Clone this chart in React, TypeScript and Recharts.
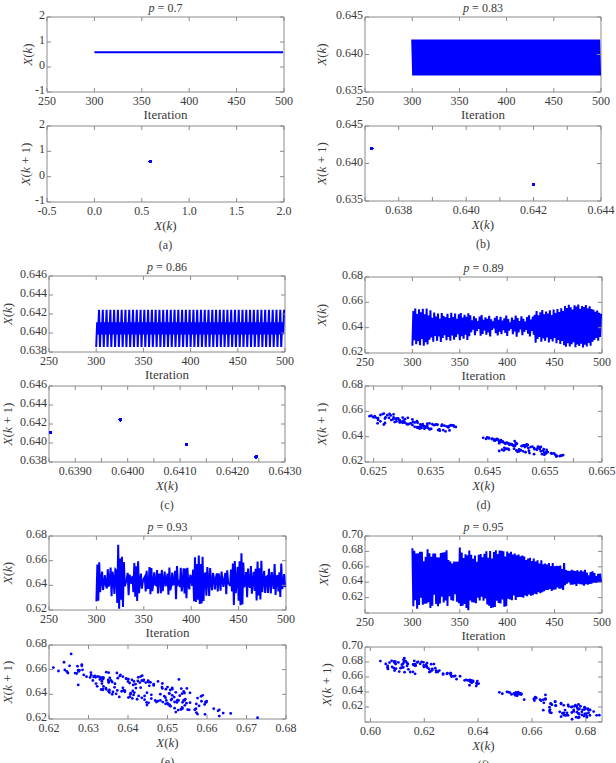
import React from 'react';
import { LineChart, Line, ScatterChart, Scatter, XAxis, YAxis, ReferenceArea } from 'recharts';

// ---------------- data ----------------
const START_ITER = 300;
const iterTicks = [250, 300, 350, 400, 450, 500];

const seriesA = [
  0.59, 0.59, 0.59, 0.59, 0.59, 0.59, 0.59, 0.59, 0.59, 0.59, 0.59, 0.59, 0.59, 0.59, 0.59, 0.59, 0.59, 0.59, 0.59, 0.59,
  0.59, 0.59, 0.59, 0.59, 0.59, 0.59, 0.59, 0.59, 0.59, 0.59, 0.59, 0.59, 0.59, 0.59, 0.59, 0.59, 0.59, 0.59, 0.59, 0.59,
  0.59, 0.59, 0.59, 0.59, 0.59, 0.59, 0.59, 0.59, 0.59, 0.59, 0.59, 0.59, 0.59, 0.59, 0.59, 0.59, 0.59, 0.59, 0.59, 0.59,
  0.59, 0.59, 0.59, 0.59, 0.59, 0.59, 0.59, 0.59, 0.59, 0.59, 0.59, 0.59, 0.59, 0.59, 0.59, 0.59, 0.59, 0.59, 0.59, 0.59,
  0.59, 0.59, 0.59, 0.59, 0.59, 0.59, 0.59, 0.59, 0.59, 0.59, 0.59, 0.59, 0.59, 0.59, 0.59, 0.59, 0.59, 0.59, 0.59, 0.59,
  0.59, 0.59, 0.59, 0.59, 0.59, 0.59, 0.59, 0.59, 0.59, 0.59, 0.59, 0.59, 0.59, 0.59, 0.59, 0.59, 0.59, 0.59, 0.59, 0.59,
  0.59, 0.59, 0.59, 0.59, 0.59, 0.59, 0.59, 0.59, 0.59, 0.59, 0.59, 0.59, 0.59, 0.59, 0.59, 0.59, 0.59, 0.59, 0.59, 0.59,
  0.59, 0.59, 0.59, 0.59, 0.59, 0.59, 0.59, 0.59, 0.59, 0.59, 0.59, 0.59, 0.59, 0.59, 0.59, 0.59, 0.59, 0.59, 0.59, 0.59,
  0.59, 0.59, 0.59, 0.59, 0.59, 0.59, 0.59, 0.59, 0.59, 0.59, 0.59, 0.59, 0.59, 0.59, 0.59, 0.59, 0.59, 0.59, 0.59, 0.59,
  0.59, 0.59, 0.59, 0.59, 0.59, 0.59, 0.59, 0.59, 0.59, 0.59, 0.59, 0.59, 0.59, 0.59, 0.59, 0.59, 0.59, 0.59, 0.59, 0.59,
];

const seriesB = [
  0.6420, 0.6372, 0.6420, 0.6372, 0.6420, 0.6372, 0.6420, 0.6372, 0.6420, 0.6372, 0.6420, 0.6372, 0.6420, 0.6372, 0.6420, 0.6372, 0.6420, 0.6372, 0.6420, 0.6372,
  0.6420, 0.6372, 0.6420, 0.6372, 0.6420, 0.6372, 0.6420, 0.6372, 0.6420, 0.6372, 0.6420, 0.6372, 0.6420, 0.6372, 0.6420, 0.6372, 0.6420, 0.6372, 0.6420, 0.6372,
  0.6420, 0.6372, 0.6420, 0.6372, 0.6420, 0.6372, 0.6420, 0.6372, 0.6420, 0.6372, 0.6420, 0.6372, 0.6420, 0.6372, 0.6420, 0.6372, 0.6420, 0.6372, 0.6420, 0.6372,
  0.6420, 0.6372, 0.6420, 0.6372, 0.6420, 0.6372, 0.6420, 0.6372, 0.6420, 0.6372, 0.6420, 0.6372, 0.6420, 0.6372, 0.6420, 0.6372, 0.6420, 0.6372, 0.6420, 0.6372,
  0.6420, 0.6372, 0.6420, 0.6372, 0.6420, 0.6372, 0.6420, 0.6372, 0.6420, 0.6372, 0.6420, 0.6372, 0.6420, 0.6372, 0.6420, 0.6372, 0.6420, 0.6372, 0.6420, 0.6372,
  0.6420, 0.6372, 0.6420, 0.6372, 0.6420, 0.6372, 0.6420, 0.6372, 0.6420, 0.6372, 0.6420, 0.6372, 0.6420, 0.6372, 0.6420, 0.6372, 0.6420, 0.6372, 0.6420, 0.6372,
  0.6420, 0.6372, 0.6420, 0.6372, 0.6420, 0.6372, 0.6420, 0.6372, 0.6420, 0.6372, 0.6420, 0.6372, 0.6420, 0.6372, 0.6420, 0.6372, 0.6420, 0.6372, 0.6420, 0.6372,
  0.6420, 0.6372, 0.6420, 0.6372, 0.6420, 0.6372, 0.6420, 0.6372, 0.6420, 0.6372, 0.6420, 0.6372, 0.6420, 0.6372, 0.6420, 0.6372, 0.6420, 0.6372, 0.6420, 0.6372,
  0.6420, 0.6372, 0.6420, 0.6372, 0.6420, 0.6372, 0.6420, 0.6372, 0.6420, 0.6372, 0.6420, 0.6372, 0.6420, 0.6372, 0.6420, 0.6372, 0.6420, 0.6372, 0.6420, 0.6372,
  0.6420, 0.6372, 0.6420, 0.6372, 0.6420, 0.6372, 0.6420, 0.6372, 0.6420, 0.6372, 0.6420, 0.6372, 0.6420, 0.6372, 0.6420, 0.6372, 0.6420, 0.6372, 0.6420, 0.6372,
];

const seriesC = [
  0.63853, 0.64112, 0.63986, 0.64245, 0.63853, 0.64112, 0.63986, 0.64245, 0.63853, 0.64112, 0.63986, 0.64245, 0.63853, 0.64112, 0.63986, 0.64245, 0.63853, 0.64112, 0.63986, 0.64245,
  0.63853, 0.64112, 0.63986, 0.64245, 0.63853, 0.64112, 0.63986, 0.64245, 0.63853, 0.64112, 0.63986, 0.64245, 0.63853, 0.64112, 0.63986, 0.64245, 0.63853, 0.64112, 0.63986, 0.64245,
  0.63853, 0.64112, 0.63986, 0.64245, 0.63853, 0.64112, 0.63986, 0.64245, 0.63853, 0.64112, 0.63986, 0.64245, 0.63853, 0.64112, 0.63986, 0.64245, 0.63853, 0.64112, 0.63986, 0.64245,
  0.63853, 0.64112, 0.63986, 0.64245, 0.63853, 0.64112, 0.63986, 0.64245, 0.63853, 0.64112, 0.63986, 0.64245, 0.63853, 0.64112, 0.63986, 0.64245, 0.63853, 0.64112, 0.63986, 0.64245,
  0.63853, 0.64112, 0.63986, 0.64245, 0.63853, 0.64112, 0.63986, 0.64245, 0.63853, 0.64112, 0.63986, 0.64245, 0.63853, 0.64112, 0.63986, 0.64245, 0.63853, 0.64112, 0.63986, 0.64245,
  0.63853, 0.64112, 0.63986, 0.64245, 0.63853, 0.64112, 0.63986, 0.64245, 0.63853, 0.64112, 0.63986, 0.64245, 0.63853, 0.64112, 0.63986, 0.64245, 0.63853, 0.64112, 0.63986, 0.64245,
  0.63853, 0.64112, 0.63986, 0.64245, 0.63853, 0.64112, 0.63986, 0.64245, 0.63853, 0.64112, 0.63986, 0.64245, 0.63853, 0.64112, 0.63986, 0.64245, 0.63853, 0.64112, 0.63986, 0.64245,
  0.63853, 0.64112, 0.63986, 0.64245, 0.63853, 0.64112, 0.63986, 0.64245, 0.63853, 0.64112, 0.63986, 0.64245, 0.63853, 0.64112, 0.63986, 0.64245, 0.63853, 0.64112, 0.63986, 0.64245,
  0.63853, 0.64112, 0.63986, 0.64245, 0.63853, 0.64112, 0.63986, 0.64245, 0.63853, 0.64112, 0.63986, 0.64245, 0.63853, 0.64112, 0.63986, 0.64245, 0.63853, 0.64112, 0.63986, 0.64245,
  0.63853, 0.64112, 0.63986, 0.64245, 0.63853, 0.64112, 0.63986, 0.64245, 0.63853, 0.64112, 0.63986, 0.64245, 0.63853, 0.64112, 0.63986, 0.64245, 0.63853, 0.64112, 0.63986, 0.64245,
];

const seriesD = [
  0.6258, 0.6532, 0.6301, 0.6551, 0.6270, 0.6508, 0.6293, 0.6545, 0.6262, 0.6521, 0.6310, 0.6549, 0.6257, 0.6505, 0.6285, 0.6552, 0.6268, 0.6496, 0.6305, 0.6538,
  0.6322, 0.6478, 0.6290, 0.6520, 0.6335, 0.6487, 0.6296, 0.6512, 0.6330, 0.6470, 0.6287, 0.6515, 0.6318, 0.6492, 0.6340, 0.6481, 0.6301, 0.6509, 0.6326, 0.6475,
  0.6297, 0.6518, 0.6338, 0.6483, 0.6305, 0.6511, 0.6327, 0.6470, 0.6348, 0.6505, 0.6300, 0.6516, 0.6332, 0.6479, 0.6312, 0.6501, 0.6344, 0.6486, 0.6303, 0.6514,
  0.6332, 0.6497, 0.6365, 0.6458, 0.6385, 0.6490, 0.6340, 0.6473, 0.6372, 0.6452, 0.6390, 0.6488, 0.6336, 0.6499, 0.6351, 0.6462, 0.6378, 0.6481, 0.6345, 0.6470,
  0.6362, 0.6494, 0.6330, 0.6466, 0.6383, 0.6449, 0.6394, 0.6477, 0.6356, 0.6491, 0.6339, 0.6463, 0.6369, 0.6485, 0.6348, 0.6457, 0.6381, 0.6473, 0.6359, 0.6496,
  0.6334, 0.6468, 0.6376, 0.6442, 0.6391, 0.6480, 0.6349, 0.6461, 0.6370, 0.6495, 0.6328, 0.6476, 0.6363, 0.6452, 0.6387, 0.6489, 0.6341, 0.6470, 0.6366, 0.6447,
  0.6382, 0.6483, 0.6353, 0.6498, 0.6331, 0.6465, 0.6374, 0.6487, 0.6344, 0.6502, 0.6281, 0.6531, 0.6310, 0.6497, 0.6326, 0.6522, 0.6289, 0.6540, 0.6315, 0.6505,
  0.6296, 0.6528, 0.6322, 0.6512, 0.6284, 0.6537, 0.6308, 0.6500, 0.6291, 0.6543, 0.6319, 0.6516, 0.6277, 0.6548, 0.6302, 0.6523, 0.6271, 0.6553, 0.6295, 0.6531,
  0.6262, 0.6571, 0.6249, 0.6555, 0.6278, 0.6580, 0.6252, 0.6561, 0.6270, 0.6543, 0.6285, 0.6576, 0.6246, 0.6566, 0.6268, 0.6582, 0.6255, 0.6549, 0.6274, 0.6570,
  0.6243, 0.6562, 0.6266, 0.6578, 0.6251, 0.6553, 0.6280, 0.6568, 0.6258, 0.6547, 0.6289, 0.6541, 0.6302, 0.6525, 0.6318, 0.6536, 0.6296, 0.6518, 0.6327, 0.6510,
];

const seriesE = [
  0.6270, 0.6569, 0.6275, 0.6586, 0.6344, 0.6451, 0.6511, 0.6362, 0.6419, 0.6482, 0.6401, 0.6374, 0.6531, 0.6389, 0.6432, 0.6544, 0.6311, 0.6512, 0.6452, 0.6331,
  0.6529, 0.6521, 0.6256, 0.6728, 0.6211, 0.6617, 0.6283, 0.6631, 0.6224, 0.6589, 0.6392, 0.6420, 0.6451, 0.6501, 0.6319, 0.6487, 0.6448, 0.6413, 0.6476, 0.6345,
  0.6580, 0.6307, 0.6555, 0.6274, 0.6596, 0.6337, 0.6445, 0.6495, 0.6373, 0.6432, 0.6454, 0.6469, 0.6350, 0.6517, 0.6378, 0.6379, 0.6548, 0.6328, 0.6541, 0.6353,
  0.6415, 0.6505, 0.6406, 0.6401, 0.6524, 0.6334, 0.6487, 0.6488, 0.6337, 0.6525, 0.6353, 0.6435, 0.6512, 0.6392, 0.6430, 0.6495, 0.6323, 0.6545, 0.6360, 0.6400,
  0.6504, 0.6407, 0.6410, 0.6518, 0.6288, 0.6557, 0.6412, 0.6427, 0.6387, 0.6543, 0.6351, 0.6426, 0.6538, 0.6335, 0.6537, 0.6295, 0.6543, 0.6411, 0.6367, 0.6486,
  0.6459, 0.6396, 0.6527, 0.6272, 0.6628, 0.6266, 0.6572, 0.6283, 0.6641, 0.6248, 0.6573, 0.6252, 0.6631, 0.6274, 0.6476, 0.6505, 0.6316, 0.6549, 0.6448, 0.6313,
  0.6541, 0.6423, 0.6360, 0.6500, 0.6459, 0.6366, 0.6457, 0.6497, 0.6351, 0.6496, 0.6442, 0.6357, 0.6512, 0.6442, 0.6387, 0.6453, 0.6500, 0.6329, 0.6521, 0.6416,
  0.6414, 0.6395, 0.6528, 0.6351, 0.6576, 0.6240, 0.6598, 0.6336, 0.6436, 0.6551, 0.6276, 0.6595, 0.6238, 0.6660, 0.6245, 0.6585, 0.6384, 0.6425, 0.6508, 0.6304,
  0.6537, 0.6405, 0.6381, 0.6557, 0.6332, 0.6439, 0.6509, 0.6354, 0.6534, 0.6277, 0.6594, 0.6318, 0.6538, 0.6285, 0.6599, 0.6345, 0.6440, 0.6518, 0.6338, 0.6465,
  0.6472, 0.6338, 0.6535, 0.6447, 0.6334, 0.6507, 0.6435, 0.6372, 0.6573, 0.6322, 0.6465, 0.6482, 0.6351, 0.6506, 0.6306, 0.6576, 0.6370, 0.6404, 0.6492, 0.6385,
];

const seriesF = [
  0.6840, 0.6089, 0.6808, 0.6166, 0.6772, 0.6057, 0.6775, 0.6104, 0.6795, 0.6197, 0.6796, 0.6107, 0.6672, 0.6122, 0.6730, 0.6123, 0.6829, 0.6139, 0.6775, 0.6064,
  0.6729, 0.6094, 0.6773, 0.6236, 0.6773, 0.6116, 0.6725, 0.6087, 0.6719, 0.6122, 0.6780, 0.6210, 0.6785, 0.6136, 0.6788, 0.6163, 0.6815, 0.6090, 0.6687, 0.6219,
  0.6667, 0.6166, 0.6642, 0.6158, 0.6669, 0.6245, 0.6665, 0.6148, 0.6667, 0.6126, 0.6850, 0.6091, 0.6786, 0.6095, 0.6713, 0.6117, 0.6764, 0.6064, 0.6749, 0.6037,
  0.6812, 0.6163, 0.6755, 0.6141, 0.6703, 0.6136, 0.6748, 0.6127, 0.6665, 0.6198, 0.6755, 0.6161, 0.6766, 0.6212, 0.6723, 0.6159, 0.6768, 0.6190, 0.6802, 0.6112,
  0.6718, 0.6093, 0.6804, 0.6065, 0.6708, 0.6071, 0.6793, 0.6079, 0.6816, 0.6160, 0.6767, 0.6131, 0.6810, 0.6125, 0.6807, 0.6177, 0.6803, 0.6081, 0.6734, 0.6089,
  0.6798, 0.6185, 0.6776, 0.6174, 0.6795, 0.6167, 0.6761, 0.6226, 0.6771, 0.6168, 0.6750, 0.6206, 0.6758, 0.6209, 0.6736, 0.6208, 0.6746, 0.6199, 0.6734, 0.6229,
  0.6689, 0.6218, 0.6708, 0.6241, 0.6718, 0.6223, 0.6674, 0.6230, 0.6708, 0.6251, 0.6670, 0.6244, 0.6686, 0.6270, 0.6644, 0.6256, 0.6686, 0.6270, 0.6634, 0.6284,
  0.6642, 0.6298, 0.6630, 0.6298, 0.6650, 0.6311, 0.6609, 0.6286, 0.6650, 0.6301, 0.6607, 0.6307, 0.6612, 0.6333, 0.6610, 0.6315, 0.6616, 0.6320, 0.6571, 0.6298,
  0.6650, 0.6361, 0.6556, 0.6381, 0.6549, 0.6397, 0.6546, 0.6369, 0.6560, 0.6367, 0.6551, 0.6375, 0.6545, 0.6350, 0.6556, 0.6381, 0.6539, 0.6375, 0.6555, 0.6371,
  0.6538, 0.6356, 0.6561, 0.6376, 0.6524, 0.6368, 0.6490, 0.6377, 0.6533, 0.6380, 0.6540, 0.6394, 0.6518, 0.6393, 0.6479, 0.6396, 0.6507, 0.6402, 0.6512, 0.6398,
];

// ---------------- style ----------------
const FONT = '"Liberation Serif", "DejaVu Serif", serif';
const TXT = '#3a3a3a';
const BOX = '#8a8a8a';
const BLUE = '#0000ff';
const ML = 60, MT = 22, MR = 24, MB = 52;

type Ax = { domain: [number, number]; ticks: number[]; labeled: number[]; digits: number };

const iterAx: Ax = { domain: [250, 500], ticks: iterTicks, labeled: iterTicks, digits: 0 };

const isLab = (ax: Ax, v: number) => ax.labeled.some((l) => Math.abs(l - v) < 1e-7);

const txtStyle = { fontFamily: FONT };

const makeXTick = (ax: Ax, h: number) => (props: any) => {
  const { x, y, payload } = props;
  const v = payload.value;
  return (
    <g>
      <line x1={x} y1={y} x2={x} y2={y - 4} stroke={BOX} strokeWidth={1} />
      <line x1={x} y1={y - h} x2={x} y2={y - h + 4} stroke={BOX} strokeWidth={1} />
      {isLab(ax, v) ? (
        <text x={x} y={y + 13} textAnchor="middle" style={txtStyle} fontSize={12} fill={TXT}>
          {v.toFixed(ax.digits)}
        </text>
      ) : null}
    </g>
  );
};

const makeYTick = (ax: Ax, w: number) => (props: any) => {
  const { x, y, payload } = props;
  const v = payload.value;
  return (
    <g>
      <line x1={x} y1={y} x2={x + 4} y2={y} stroke={BOX} strokeWidth={1} />
      <line x1={x + w} y1={y} x2={x + w - 4} y2={y} stroke={BOX} strokeWidth={1} />
      {isLab(ax, v) ? (
        <text x={x - 2} y={y + 2} textAnchor="end" style={txtStyle} fontSize={12} fill={TXT}>
          {v.toFixed(ax.digits)}
        </text>
      ) : null}
    </g>
  );
};

const Xk = () => (
  <>
    <tspan fontStyle="italic">X</tspan>
    <tspan>(</tspan>
    <tspan fontStyle="italic">k</tspan>
    <tspan>)</tspan>
  </>
);
const Xk1 = () => (
  <>
    <tspan fontStyle="italic">X</tspan>
    <tspan>(</tspan>
    <tspan fontStyle="italic">k</tspan>
    <tspan> + 1)</tspan>
  </>
);

const yLabelFn = (off: number, next: boolean) => (props: any) => {
  const vb = props.viewBox;
  const cx = vb.x + vb.width - off;
  const cy = vb.y + vb.height / 2;
  return (
    <text
      x={cx}
      y={cy}
      transform={`rotate(-90, ${cx}, ${cy})`}
      textAnchor="middle"
      dominantBaseline="central"
      style={txtStyle}
      fontSize={13}
      fill={TXT}
    >
      {next ? <Xk1 /> : <Xk />}
    </text>
  );
};

const timeXLabelFn = (title: string, h: number) => (props: any) => {
  const vb = props.viewBox;
  const cx = vb.x + vb.width / 2;
  return (
    <g>
      <text x={cx} y={vb.y + 27} textAnchor="middle" style={txtStyle} fontSize={13} fill={TXT}>
        Iteration
      </text>
      <text x={cx} y={vb.y - h - 5} textAnchor="middle" style={txtStyle} fontSize={12} fill={TXT}>
        <tspan fontStyle="italic">p</tspan>
        <tspan> = {title}</tspan>
      </text>
    </g>
  );
};

const scatXLabelFn = (caption: string) => (props: any) => {
  const vb = props.viewBox;
  const cx = vb.x + vb.width / 2;
  return (
    <g>
      <text x={cx} y={vb.y + 28} textAnchor="middle" style={txtStyle} fontSize={13} fill={TXT}>
        <Xk />
      </text>
      <text x={cx} y={vb.y + 47} textAnchor="middle" style={txtStyle} fontSize={12} fill={TXT}>
        {caption}
      </text>
    </g>
  );
};

const Dot = (p: any) => <circle cx={p.cx} cy={p.cy} r={1.4} fill={BLUE} />;

type TimeProps = { x0: number; y0: number; w: number; h: number; values: number[]; yAx: Ax; p: string; yOff: number };

function TimePanel({ x0, y0, w, h, values, yAx, p, yOff }: TimeProps) {
  const rows = values.map((v, i) => ({ it: START_ITER + i, v }));
  return (
    <div style={{ position: 'absolute', left: x0 - ML, top: y0 - MT }}>
      <LineChart width={ML + w + MR} height={MT + h + MB} data={rows} margin={{ top: MT, right: MR, bottom: 0, left: 0 }}>
        <XAxis
          type="number"
          dataKey="it"
          domain={iterAx.domain}
          ticks={iterAx.ticks}
          allowDataOverflow
          axisLine={false}
          tickLine={false}
          tickSize={0}
          tickMargin={0}
          height={MB}
          interval={0}
          tick={makeXTick(iterAx, h)}
          label={timeXLabelFn(p, h)}
        />
        <YAxis
          type="number"
          domain={yAx.domain}
          ticks={yAx.ticks}
          allowDataOverflow
          axisLine={false}
          tickLine={false}
          tickSize={0}
          tickMargin={0}
          width={ML}
          interval={0}
          tick={makeYTick(yAx, w)}
          label={yLabelFn(yOff, false)}
        />
        <ReferenceArea
          x1={iterAx.domain[0]}
          x2={iterAx.domain[1]}
          y1={yAx.domain[0]}
          y2={yAx.domain[1]}
          fill="none"
          fillOpacity={0}
          stroke={BOX}
          strokeWidth={1}
        />
        <Line dataKey="v" type="linear" stroke={BLUE} strokeWidth={2} dot={false} isAnimationActive={false} />
      </LineChart>
    </div>
  );
}

type ScatProps = { x0: number; y0: number; w: number; h: number; values: number[]; xAx: Ax; yAx: Ax; caption: string; yOff: number };

function ScatterPanel({ x0, y0, w, h, values, xAx, yAx, caption, yOff }: ScatProps) {
  const pairs = values.slice(0, -1).map((v, i) => ({ x: v, y: values[i + 1] }));
  return (
    <div style={{ position: 'absolute', left: x0 - ML, top: y0 - MT }}>
      <ScatterChart width={ML + w + MR} height={MT + h + MB} margin={{ top: MT, right: MR, bottom: 0, left: 0 }}>
        <XAxis
          type="number"
          dataKey="x"
          domain={xAx.domain}
          ticks={xAx.ticks}
          allowDataOverflow
          axisLine={false}
          tickLine={false}
          tickSize={0}
          tickMargin={0}
          height={MB}
          interval={0}
          tick={makeXTick(xAx, h)}
          label={scatXLabelFn(caption)}
        />
        <YAxis
          type="number"
          dataKey="y"
          domain={yAx.domain}
          ticks={yAx.ticks}
          allowDataOverflow
          axisLine={false}
          tickLine={false}
          tickSize={0}
          tickMargin={0}
          width={ML}
          interval={0}
          tick={makeYTick(yAx, w)}
          label={yLabelFn(yOff, true)}
        />
        <ReferenceArea
          x1={xAx.domain[0]}
          x2={xAx.domain[1]}
          y1={yAx.domain[0]}
          y2={yAx.domain[1]}
          fill="none"
          fillOpacity={0}
          stroke={BOX}
          strokeWidth={1}
        />
        <Scatter data={pairs} shape={Dot} isAnimationActive={false} />
      </ScatterChart>
    </div>
  );
}

// ---------------- axes ----------------
const yA: Ax = { domain: [-1, 2], ticks: [-1, 0, 1, 2], labeled: [-1, 0, 1, 2], digits: 0 };
const xA: Ax = { domain: [-0.5, 2.0], ticks: [-0.5, 0, 0.5, 1.0, 1.5, 2.0], labeled: [-0.5, 0, 0.5, 1.0, 1.5, 2.0], digits: 1 };
const yB: Ax = { domain: [0.635, 0.645], ticks: [0.635, 0.64, 0.645], labeled: [0.635, 0.64, 0.645], digits: 3 };
const xB: Ax = {
  domain: [0.637, 0.644],
  ticks: [0.637, 0.638, 0.639, 0.64, 0.641, 0.642, 0.643, 0.644],
  labeled: [0.638, 0.64, 0.642, 0.644],
  digits: 3,
};
const yC: Ax = { domain: [0.638, 0.646], ticks: [0.638, 0.64, 0.642, 0.644, 0.646], labeled: [0.638, 0.64, 0.642, 0.644, 0.646], digits: 3 };
const xC: Ax = {
  domain: [0.6385, 0.643],
  ticks: [0.6385, 0.639, 0.6395, 0.64, 0.6405, 0.641, 0.6415, 0.642, 0.6425, 0.643],
  labeled: [0.639, 0.64, 0.641, 0.642, 0.643],
  digits: 4,
};
const yD: Ax = { domain: [0.62, 0.68], ticks: [0.62, 0.64, 0.66, 0.68], labeled: [0.62, 0.64, 0.66, 0.68], digits: 2 };
const xD: Ax = {
  domain: [0.6235, 0.665],
  ticks: [0.625, 0.63, 0.635, 0.64, 0.645, 0.65, 0.655, 0.66, 0.665],
  labeled: [0.625, 0.635, 0.645, 0.655, 0.665],
  digits: 3,
};
const yE: Ax = { domain: [0.62, 0.68], ticks: [0.62, 0.64, 0.66, 0.68], labeled: [0.62, 0.64, 0.66, 0.68], digits: 2 };
const xE: Ax = {
  domain: [0.62, 0.68],
  ticks: [0.62, 0.63, 0.64, 0.65, 0.66, 0.67, 0.68],
  labeled: [0.62, 0.63, 0.64, 0.65, 0.66, 0.67, 0.68],
  digits: 2,
};
const yF: Ax = { domain: [0.6, 0.7], ticks: [0.6, 0.62, 0.64, 0.66, 0.68, 0.7], labeled: [0.62, 0.64, 0.66, 0.68, 0.7], digits: 2 };
const xF: Ax = { domain: [0.598, 0.686], ticks: [0.6, 0.62, 0.64, 0.66, 0.68], labeled: [0.6, 0.62, 0.64, 0.66, 0.68], digits: 2 };

export default function App() {
  return (
    <div style={{ position: 'absolute', left: 0, top: 0, width: 616, height: 763, background: '#fff', overflow: 'hidden' }}>
      <TimePanel x0={47} y0={17} w={237} h={75} values={seriesA} yAx={yA} p="0.7" yOff={20} />
      <ScatterPanel x0={47} y0={126} w={237} h={76} values={seriesA} xAx={xA} yAx={yA} caption="(a)" yOff={22} />

      <TimePanel x0={365} y0={17} w={236} h={75} values={seriesB} yAx={yB} p="0.83" yOff={44} />
      <ScatterPanel x0={365} y0={126} w={236} h={75} values={seriesB} xAx={xB} yAx={yB} caption="(b)" yOff={44} />

      <TimePanel x0={49} y0={276} w={236} h={76} values={seriesC} yAx={yC} p="0.86" yOff={42} />
      <ScatterPanel x0={49} y0={386} w={236} h={76} values={seriesC} xAx={xC} yAx={yC} caption="(c)" yOff={42} />

      <TimePanel x0={365} y0={277} w={237} h={76} values={seriesD} yAx={yD} p="0.89" yOff={44} />
      <ScatterPanel x0={365} y0={386} w={237} h={76} values={seriesD} xAx={xD} yAx={yD} caption="(d)" yOff={44} />

      <TimePanel x0={49} y0={536} w={237} h={74} values={seriesE} yAx={yE} p="0.93" yOff={42} />
      <ScatterPanel x0={49} y0={645} w={237} h={74} values={seriesE} xAx={xE} yAx={yE} caption="(e)" yOff={42} />

      <TimePanel x0={365} y0={536} w={237} h={77} values={seriesF} yAx={yF} p="0.95" yOff={42} />
      <ScatterPanel x0={365} y0={647} w={237} h={75} values={seriesF} xAx={xF} yAx={yF} caption="(f)" yOff={39} />
    </div>
  );
}
